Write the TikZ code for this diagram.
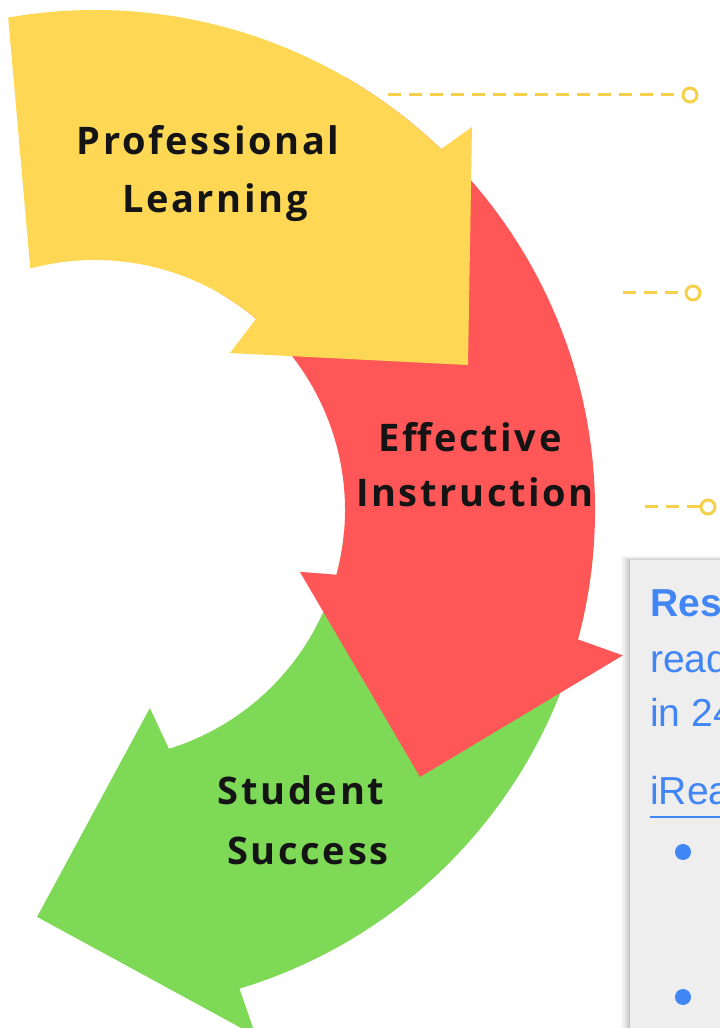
\documentclass[tikz,border=0pt]{standalone}
\usepackage{fontspec}
\usepackage{xcolor}
\newfontfamily\cyclefont[LetterSpace=7]{Open Sans}
\newfontfamily\notefont{Liberation Sans}
\definecolor{plyellow}{HTML}{FED855}
\definecolor{eired}{HTML}{FF5757}
\definecolor{ssgreen}{HTML}{7ED957}
\definecolor{linkgold}{HTML}{F5D04A}
\definecolor{noteblue}{HTML}{4285F4}
\definecolor{notegray}{HTML}{EEEEEE}

\begin{document}
\begin{tikzpicture}[x=1pt,y=1pt,
  stage/.style={font=\cyclefont\bfseries\fontsize{38}{46}\selectfont,text=black!92,anchor=base,inner sep=0pt},
  note/.style={font=\notefont\fontsize{39}{45}\selectfont,text=noteblue,anchor=base west,inner sep=0pt},
  link/.style={linkgold,line width=3pt,dash pattern=on 13pt off 8pt},
  knob/.style={circle,draw=linkgold,fill=white,line width=3pt,minimum size=14pt,inner sep=0pt}]
  \clip (0,0) rectangle (720,1028);
  \fill[white] (0,0) rectangle (720,1028);

  % the three arcs, drawn back to front
  \begin{scope}[shift={(95,518)}]
    \fill[ssgreen] (-5:500) arc[start angle=-5,end angle=-73.2,radius=500]
      -- (-73:550) -- (-98.1:411) -- (-74.5:205.5) -- (-72.8:250)
      arc[start angle=-72.8,end angle=-5,radius=250] -- cycle;
    \fill[eired] (60:500) arc[start angle=60,end angle=-15,radius=500]
      -- (-15.4:547.5) -- (-39.4:420.6) -- (-16.8:214) -- (-15:250)
      arc[start angle=-15,end angle=60,radius=250] -- cycle;
    \fill[plyellow] (100:500) arc[start angle=100,end angle=46.2,radius=500]
      -- (45.45:537.4) -- (21.24:400.2) -- (49.3:207) -- (49.9:250)
      arc[start angle=49.9,end angle=105,radius=250] -- cycle;
  \end{scope}

  \node[stage] (pl1) at (208,873) {Professional};
  \node[stage] (pl2) at (215,815) {Learning};
  \node[stage] (ei1) at (470,576) {Effective};
  \node[stage] (ei2) at (475,521) {Instruction};
  \node[stage] (ss1) at (301,223) {Student};
  \node[stage] (ss2) at (308,163) {Success};

  % dotted leaders
  \foreach \n/\xa/\xb/\y in {1/388/690/933,2/623/693/735,3/645/708/521} {
    \coordinate (s\n) at (\xa,\y);
    \node[knob] (k\n) at (\xb,\y) {};
    \draw[link] (s\n) -- (k\n);
  }

  % side note card
  \foreach \o/\t in {9/0.03,7/0.04,5/0.05,3/0.06,1/0.08}
    \fill[black,opacity=\t] (630-\o,-10) rectangle (740,468+0.4*\o);
  \fill[notegray] (630,-10) rectangle (740,468);
  \node[note] (n1) at (650,411) {\bfseries Res};
  \node[note] (n2) at (650,355) {read};
  \node[note] (n3) at (650,301) {in 24};
  \node[note] (n4) at (650,223) {iRea};
  \draw[noteblue,line width=2.5pt] ([yshift=-12pt]n4.base west) -- ([yshift=-12pt]n4.base east);
  \fill[noteblue] (683,176) circle[radius=8];
  \fill[noteblue] (683,31) circle[radius=8];
\end{tikzpicture}
\end{document}
